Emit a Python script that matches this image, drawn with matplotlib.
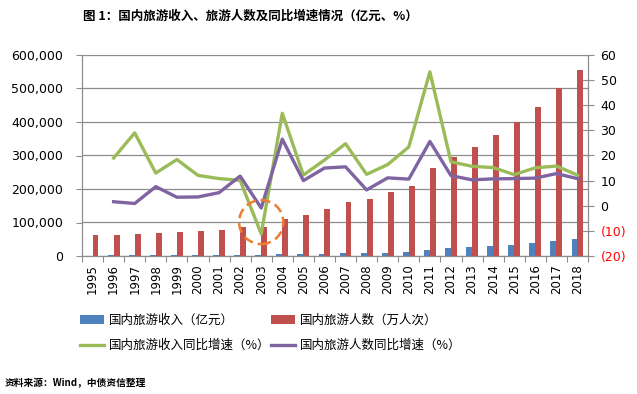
import matplotlib.pyplot as plt
import numpy as np
from matplotlib.patches import Ellipse
from matplotlib.ticker import FuncFormatter

plt.rcParams['font.family'] = ['Noto Sans CJK SC', 'DejaVu Sans']

years = [str(y) for y in range(1995, 2019)]
revenue = [1376, 1638, 2113, 2391, 2832, 3176, 3522, 3878, 3442, 4711, 5286, 6230,
           7771, 8749, 10184, 12580, 19305, 22706, 26276, 30312, 34195, 39390, 45661, 51278]
visitors = [62900, 64000, 64400, 69500, 71900, 74400, 78400, 87800, 87000, 110200, 121200, 139400,
            161000, 171200, 190200, 210300, 264100, 295700, 326200, 361100, 400000, 444000, 500100, 553900]
# growth rates start in 1996
rev_growth = [19.0, 29.0, 13.0, 18.4, 12.1, 10.8, 10.1, -11.2, 36.8, 12.2, 18.2, 24.7,
              12.5, 16.4, 23.4, 53.3, 17.5, 15.7, 15.2, 12.4, 15.1, 15.8, 12.2]
vis_growth = [1.6, 0.9, 7.6, 3.4, 3.5, 5.2, 11.8, -0.9, 26.5, 10.0, 15.0, 15.5,
              6.3, 11.1, 10.6, 25.6, 12.0, 10.3, 10.7, 10.8, 11.0, 12.8, 10.8]

x = np.arange(len(years))
w = 0.28

fig = plt.figure(figsize=(6.37, 3.94), dpi=100)
ax = fig.add_axes([82/637, 1 - 256/394, 506/637, 201/394])
ax2 = ax.twinx()

b1 = ax.bar(x - w/2, revenue, w, color='#4F81BD', label='国内旅游收入（亿元）', zorder=3)
b2 = ax.bar(x + w/2, visitors, w, color='#C0504D', label='国内旅游人数（万人次）', zorder=3)
l1, = ax2.plot(x[1:], rev_growth, color='#9BBB59', lw=2.4, label='国内旅游收入同比增速（%）', zorder=4)
l2, = ax2.plot(x[1:], vis_growth, color='#8064A2', lw=2.4, label='国内旅游人数同比增速（%）', zorder=4)

ax.set_xlim(-0.5, len(years) - 0.5)
ax.set_ylim(0, 600000)
ax.set_yticks(np.arange(0, 600001, 100000))
ax.yaxis.set_major_formatter(FuncFormatter(lambda v, p: f'{int(v):,}'))
ax.grid(axis='y', color='#8c8c8c', lw=0.9, zorder=0)
ax.set_axisbelow(True)

ax2.set_ylim(-20, 60)
ax2.set_yticks(np.arange(-20, 61, 10))
ax2.yaxis.set_major_formatter(FuncFormatter(lambda v, p: f'({abs(int(v))})' if v < 0 else f'{int(v)}'))

# category tick marks between bars, labels centred
ax.set_xticks(np.arange(-0.5, len(years), 1))
ax.set_xticklabels([])
ax.set_xticks(x, minor=True)
ax.set_xticklabels(years, minor=True, rotation=90, fontsize=8.5, family='DejaVu Sans')
ax.tick_params(axis='x', which='minor', length=0, pad=6)
ax.tick_params(axis='x', which='major', length=4, color='#8c8c8c')
ax.tick_params(axis='y', labelsize=9, length=4.5, color='#8c8c8c', pad=9)
ax2.tick_params(axis='y', labelsize=9, length=8, direction='inout', color='#8c8c8c', pad=5)
for t in ax.get_yticklabels():
    t.set_family('DejaVu Sans')
for t in ax2.get_yticklabels():
    t.set_family('DejaVu Sans')
    if t.get_text().startswith('('):
        t.set_color('red')

for a in (ax, ax2):
    a.spines['top'].set_visible(False)
    for s in ('left', 'right', 'bottom'):
        a.spines[s].set_color('#8c8c8c')

# highlight 2003 dip
ax2.add_patch(Ellipse((years.index('2003'), -6.5), 2.1, 17.5, fill=False,
                      ec='#ED7D31', ls=(0, (4, 2)), lw=1.8, zorder=5))

fig.legend(handles=[b1, l1, b2, l2], loc='center', ncol=2, frameon=False,
           bbox_to_anchor=(0.425, 0.155), fontsize=9, handlelength=1.9,
           columnspacing=0.1, handletextpad=0.4, labelspacing=1.0)

fig.text(0.393, 0.959, '图 1：国内旅游收入、旅游人数及同比增速情况（亿元、%）',
         ha='center', va='center', fontsize=9, fontweight='bold')
fig.text(0.008, 0.028, '资料来源：Wind，中债资信整理', ha='left', va='center',
         fontsize=7, fontweight='bold')

fig.savefig('out.png', dpi=100)
